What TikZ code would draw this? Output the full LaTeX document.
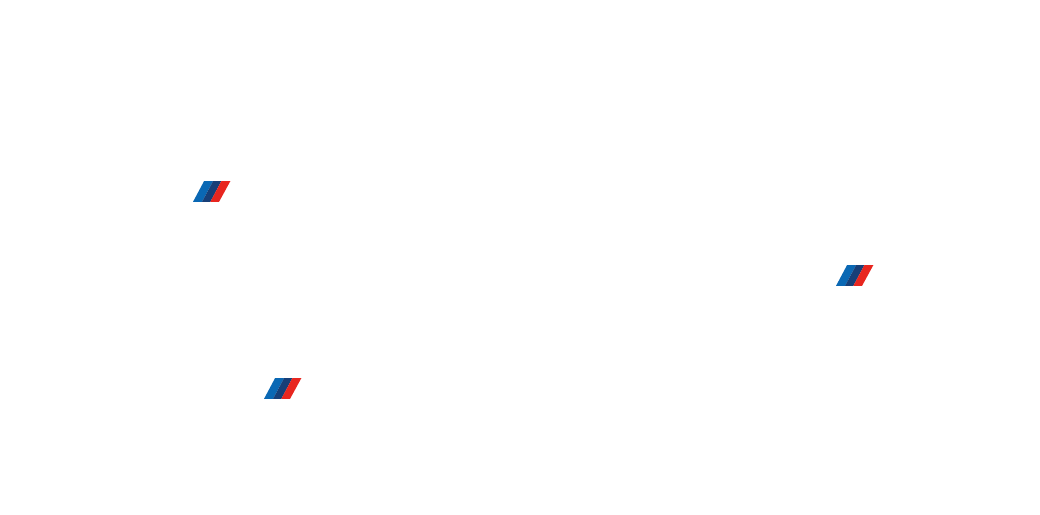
\documentclass[tikz,border=0pt]{standalone}
\definecolor{mblue}{HTML}{0A68B4}
\definecolor{mdark}{HTML}{173F78}
\definecolor{mred}{HTML}{E8261F}
\tikzset{
  mlogo/.pic={
    \fill[mblue] (0,20.7) -- (11,0) -- (20,0) -- (9,20.7) -- cycle;
    \fill[mdark] (9,20.7) -- (20,0) -- (28.3,0) -- (17.3,20.7) -- cycle;
    \fill[mred] (17.3,20.7) -- (28.3,0) -- (37.3,0) -- (26,20.7) -- cycle;
  }
}
\begin{document}
\begin{tikzpicture}[x=1pt,y=-1pt]
\useasboundingbox (0,0) rectangle (1040,514);
\fill[white] (0,0) rectangle (1040,514);
\pic at (193,181.2) {mlogo};
\pic at (836,265.2) {mlogo};
\pic at (264,378.2) {mlogo};
\end{tikzpicture}
\end{document}
